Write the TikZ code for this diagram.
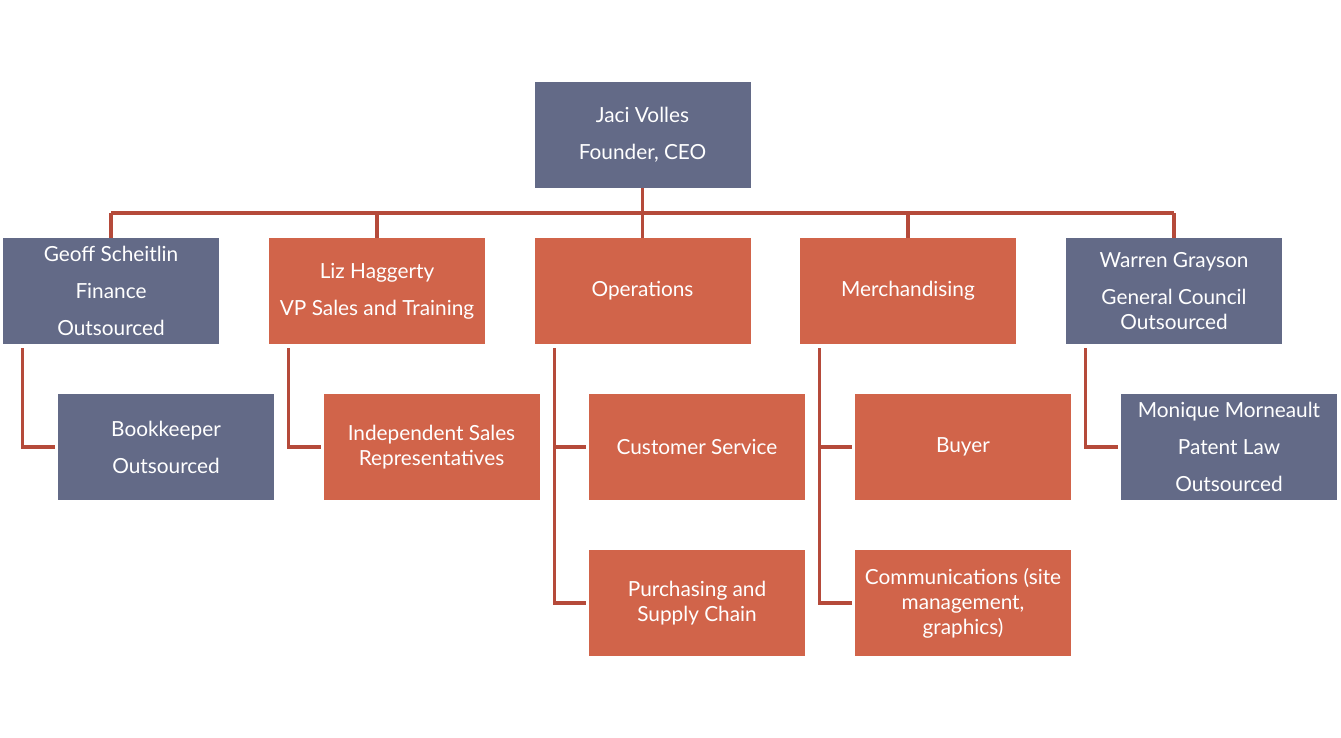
\documentclass[tikz,border=0pt]{standalone}
\usepackage{fontspec}
\setmainfont{Lato}
\usepackage{tikz}
\usetikzlibrary{calc,positioning}
\definecolor{slate}{RGB}{99,106,135}
\definecolor{rust}{RGB}{209,100,74}
\definecolor{wire}{RGB}{181,74,58}
\tikzset{
  cardbase/.style={minimum width=162pt, minimum height=79.5pt, inner sep=0pt,
                   align=center, text=white, font=\fontsize{15.6}{18.75}\selectfont},
  slatecard/.style={cardbase, fill=slate},
  rustcard/.style={cardbase, fill=rust},
  link/.style={draw=wire, line width=2.5pt},
}
\newcommand{\gap}{\\[9pt]}
\begin{document}
\begin{tikzpicture}[x=0.75pt,y=-0.75pt]
  \useasboundingbox (0,0) rectangle (1341,738);
  % ====== top ======
  \node[slatecard] (ceo) at (642.5,135) {Jaci Volles\gap Founder, CEO};
  % ====== first row ======
  \node[slatecard] (fin) at (111,291) {Geoff Scheitlin\gap Finance\gap Outsourced};
  \node[rustcard]  (sal) at (377,291) {Liz Haggerty\gap VP Sales and Training};
  \node[rustcard]  (ops) at (642.5,291) {Operations};
  \node[rustcard]  (mer) at (908,291) {Merchandising};
  \node[slatecard] (law) at (1174,291) {Warren Grayson\gap General Council\\Outsourced};
  % ====== second row ======
  \node[slatecard] (book) at (166,447) {Bookkeeper\gap Outsourced};
  \node[rustcard]  (rep)  at (431.5,447) {Independent Sales\\Representatives};
  \node[rustcard]  (cust) at (697,447) {Customer Service};
  \node[rustcard]  (buy)  at (963,447) {Buyer};
  \node[slatecard] (pat)  at (1229,447) {Monique Morneault\gap Patent Law\gap Outsourced};
  % ====== third row ======
  \node[rustcard] (pur) at (697,603) {Purchasing and\\Supply Chain};
  \node[rustcard] (com) at (963,603) {Communications (site\\management,\\graphics)};
  % ====== bus ======
  \coordinate (bus) at (0,213);
  \draw[link] (ceo.south) -- (ceo.south |- bus);
  \draw[link] (fin.north |- bus) -- (law.north |- bus);
  \foreach \n in {fin,sal,ops,mer,law}
    \draw[link] (\n.north |- bus) -- (\n.north);
  % ====== branches ======
  \foreach \p/\c in {fin/book,sal/rep,ops/cust,ops/pur,mer/buy,mer/com,law/pat}
    \draw[link] ([xshift=15pt,yshift=-3pt]\p.south west)
      |- ([xshift=-2pt]\c.west);
\end{tikzpicture}
\end{document}
